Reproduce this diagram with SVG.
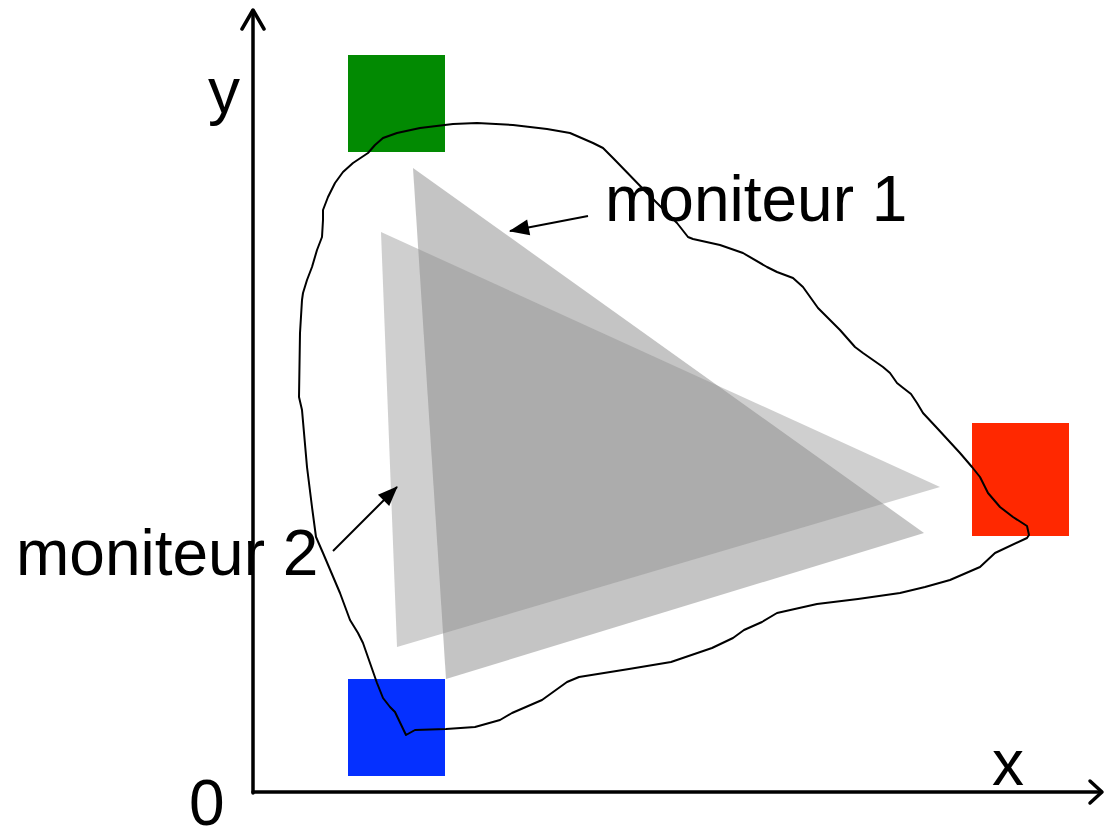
<svg xmlns="http://www.w3.org/2000/svg" width="1106" height="830" viewBox="0 0 1106 830">
<style>
text { font-family: "Liberation Sans", Arial, sans-serif; font-size: 64px; fill: #000; }
.axis { fill: none; stroke: #000; stroke-width: 3.5; stroke-linecap: round; stroke-linejoin: round; }
.lead { fill: none; stroke: #000; stroke-width: 2; }
.blob { fill: none; stroke: #000; stroke-width: 2; stroke-linejoin: round; }
</style>
<defs>
<marker id="ah" viewBox="0 0 20 16" refX="19" refY="8" markerWidth="20" markerHeight="16" markerUnits="userSpaceOnUse" orient="auto" overflow="visible">
<path d="M0,0 L20,8 L0,16 Z" fill="#000"/>
</marker>
</defs>
<rect width="1106" height="830" fill="#fff"/>
<g id="moniteur1-tri">
<polygon points="413,168 924,533 446,679" fill="#898989" fill-opacity="0.5"/>
</g>
<g id="moniteur2-tri">
<polygon points="381,232 940,487 397,647" fill="#898989" fill-opacity="0.407"/>
</g>
<g id="green"><rect x="348" y="55" width="97" height="97" fill="#028A02"/></g>
<g id="blue"><rect x="348" y="679" width="97" height="97" fill="#0530FF"/></g>
<g id="red"><rect x="972" y="423" width="97" height="113" fill="#FF2800"/></g>
<g id="gamut">
<path class="blob" d="M406,735 L415,730 L446,729 L475,727 L500,720 L512,713 L542,700 L567,682 L579,677 L629,669 L671,662 L712,648 L733,638 L744,630 L762,622 L777,613 L817,604 L858,599 L879,596 L900,593 L925,587 L950,580 L980,567 L995,553 L1027,538 L1029,535 L1027,526 L1013,517 L1000,507 L988,493 L985,487 L980,477 L972,467 L960,453 L937,428 L923,413 L917,403 L911,394 L902,387 L897,383 L890,373 L883,367 L863,353 L855,347 L840,330 L823,313 L818,308 L803,287 L793,278 L777,272 L767,267 L743,253 L720,245 L693,239 L688,237 L677,223 L647,193 L613,158 L603,148 L593,143 L570,133 L547,129 L513,125 L477,123 L453,124 L420,128 L397,133 L383,138 L375,145 L368,153 L353,163 L343,172 L335,183 L328,197 L323,210 L323,220 L322,237 L317,250 L312,267 L307,280 L303,293 L302,300 L300,333 L299,397 L302,410 L307,467 L312,507 L316,537 L323,553 L340,593 L350,620 L358,633 L363,643 L377,683 L383,698 L390,707 L395,712 Z"/>
</g>
<g id="axes">
<polyline class="axis" points="253,793 253,11"/>
<polyline class="axis" points="242,29 253,10 264,29"/>
<polyline class="axis" points="253,792 1101,792"/>
<polyline class="axis" points="1090,781 1102,792 1090,803"/>
</g>
<g id="connectors">
<line class="lead" x1="588" y1="216" x2="510" y2="231" marker-end="url(#ah)"/>
<line class="lead" x1="333" y1="551" x2="397" y2="487" marker-end="url(#ah)"/>
</g>
<g id="labels">
<text x="605" y="221">moniteur 1</text>
<text x="16" y="575">moniteur 2</text>
<text x="208" y="113">y</text>
<text x="992" y="785">x</text>
<text x="189" y="825">0</text>
</g>
</svg>
